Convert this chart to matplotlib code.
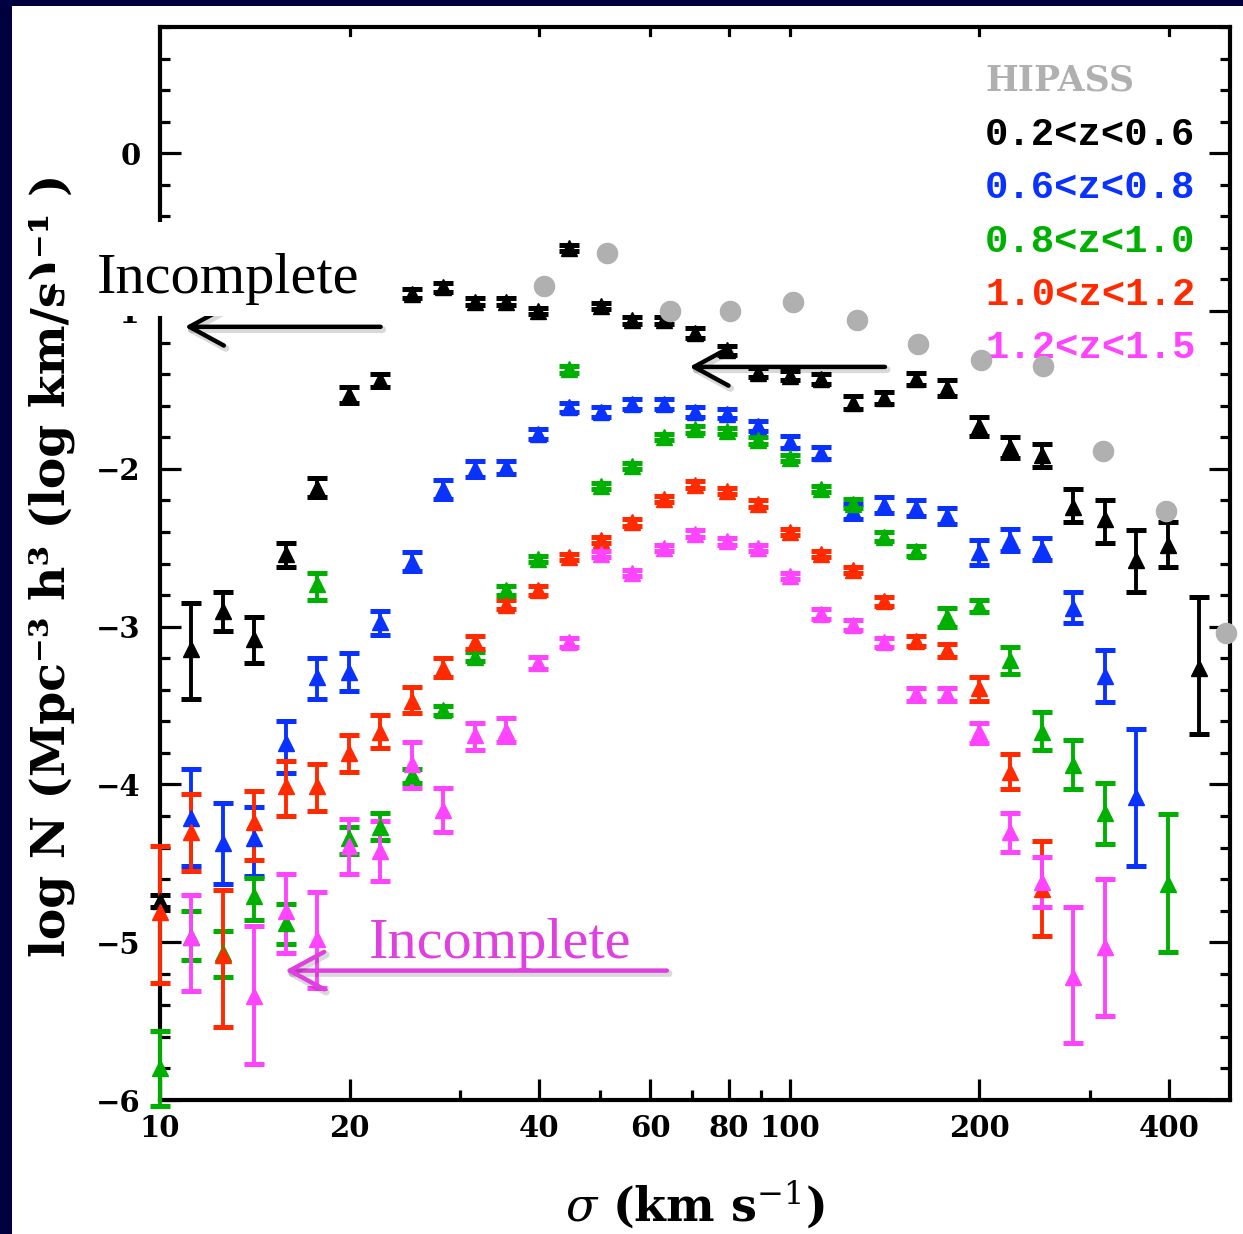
import matplotlib
matplotlib.use("Agg")
import matplotlib.pyplot as plt
import matplotlib.patheffects as pe
from matplotlib.patches import Rectangle
from matplotlib.ticker import FixedLocator, MultipleLocator, NullFormatter

# log(sigma) bin centres, 0.05 dex apart
grid = [1.00, 1.05, 1.10, 1.15, 1.20, 1.25, 1.30, 1.35, 1.40, 1.45, 1.50, 1.55,
        1.60, 1.65, 1.70, 1.75, 1.80, 1.85, 1.90, 1.95, 2.00, 2.05, 2.10, 2.15,
        2.20, 2.25, 2.30, 2.35, 2.40, 2.45, 2.50, 2.55, 2.60, 2.65]

# 0.2<z<0.6
lsig_black = grid
y_black = [-4.74, -3.14, -2.90, -3.08, -2.54, -2.12, -1.53, -1.44, -0.89, -0.85, -0.94, -0.94,
           -1.00, -0.60, -0.97, -1.06, -1.06, -1.14, -1.25, -1.39, -1.41, -1.43, -1.58, -1.55,
           -1.43, -1.49, -1.73, -1.86, -1.91, -2.24, -2.32, -2.58, -2.48, -3.26]
up_black = [0.04, 0.29, 0.12, 0.14, 0.07, 0.06, 0.05, 0.04, 0.03, 0.03, 0.02, 0.02, 0.02, 0.02,
            0.02, 0.02, 0.02, 0.03, 0.03, 0.03, 0.03, 0.03, 0.04, 0.04, 0.04, 0.05, 0.06, 0.06,
            0.07, 0.11, 0.12, 0.19, 0.14, 0.45]
dn_black = [0.04, 0.32, 0.13, 0.15, 0.08, 0.06, 0.05, 0.04, 0.03, 0.03, 0.02, 0.02, 0.02, 0.02,
            0.02, 0.02, 0.02, 0.03, 0.03, 0.03, 0.03, 0.03, 0.04, 0.04, 0.04, 0.05, 0.06, 0.07,
            0.08, 0.10, 0.15, 0.20, 0.14, 0.42]

# 0.6<z<0.8
lsig_blue = grid[1:32]
y_blue = [-4.21, -4.37, -4.34, -3.74, -3.32, -3.29, -2.97, -2.59, -2.13, -2.00, -1.99, -1.78,
          -1.61, -1.64, -1.59, -1.59, -1.64, -1.65, -1.73, -1.83, -1.90, -2.27, -2.23, -2.25,
          -2.30, -2.53, -2.45, -2.51, -2.88, -3.31, -4.08]
up_blue = [0.31, 0.25, 0.20, 0.14, 0.12, 0.12, 0.07, 0.06, 0.06, 0.05, 0.04, 0.03, 0.03, 0.03,
           0.03, 0.03, 0.03, 0.03, 0.03, 0.04, 0.04, 0.05, 0.05, 0.05, 0.05, 0.08, 0.07, 0.07,
           0.10, 0.16, 0.43]
dn_blue = [0.31, 0.26, 0.24, 0.19, 0.14, 0.12, 0.08, 0.06, 0.06, 0.05, 0.04, 0.03, 0.03, 0.03,
           0.03, 0.03, 0.03, 0.03, 0.03, 0.04, 0.04, 0.05, 0.05, 0.05, 0.05, 0.08, 0.07, 0.07,
           0.10, 0.17, 0.44]

# 0.8<z<1.0
lsig_green = grid[0:31] + [2.60]
y_green = [-5.80, -4.97, -5.07, -4.71, -4.88, -2.73, -4.34, -4.27, -3.94, -3.53, -3.19, -2.77,
           -2.57, -1.37, -2.11, -1.98, -1.80, -1.75, -1.76, -1.82, -1.93, -2.13, -2.22, -2.43,
           -2.52, -2.94, -2.87, -3.21, -3.67, -3.88, -4.18, -4.63]
up_green = [0.24, 0.17, 0.14, 0.12, 0.12, 0.07, 0.07, 0.09, 0.04, 0.03, 0.03, 0.03, 0.02, 0.02,
            0.02, 0.02, 0.02, 0.02, 0.02, 0.02, 0.02, 0.02, 0.03, 0.03, 0.03, 0.06, 0.04, 0.08,
            0.13, 0.16, 0.19, 0.44]
dn_green = [0.24, 0.14, 0.15, 0.15, 0.13, 0.10, 0.10, 0.08, 0.05, 0.03, 0.03, 0.03, 0.02, 0.02,
            0.02, 0.02, 0.02, 0.02, 0.02, 0.02, 0.02, 0.02, 0.03, 0.03, 0.03, 0.06, 0.04, 0.09,
            0.11, 0.15, 0.20, 0.43]

# 1.0<z<1.2
lsig_red = grid[0:29]
y_red = [-4.81, -4.30, -5.08, -4.24, -4.01, -4.01, -3.80, -3.67, -3.47, -3.26, -3.10, -2.86,
         -2.77, -2.56, -2.45, -2.34, -2.19, -2.10, -2.14, -2.22, -2.40, -2.54, -2.64, -2.84,
         -3.09, -3.15, -3.39, -3.92, -4.66]
up_red = [0.42, 0.24, 0.41, 0.20, 0.16, 0.14, 0.11, 0.11, 0.09, 0.06, 0.04, 0.03, 0.03, 0.02,
          0.02, 0.02, 0.02, 0.02, 0.02, 0.02, 0.02, 0.02, 0.02, 0.03, 0.03, 0.04, 0.07, 0.11, 0.30]
dn_red = [0.45, 0.25, 0.46, 0.24, 0.19, 0.16, 0.12, 0.10, 0.08, 0.06, 0.04, 0.03, 0.03, 0.02,
          0.02, 0.02, 0.02, 0.02, 0.02, 0.02, 0.02, 0.02, 0.02, 0.03, 0.03, 0.04, 0.08, 0.11, 0.30]

# 1.2<z<1.5
lsig_mag = [grid[1]] + grid[3:31]
y_mag = [-4.97, -5.34, -4.80, -4.98, -4.39, -4.42, -3.87, -4.16, -3.69, -3.66, -3.23, -3.10,
         -2.54, -2.66, -2.50, -2.41, -2.46, -2.50, -2.68, -2.92, -2.99, -3.10, -3.43, -3.43,
         -3.67, -4.30, -4.62, -5.22, -5.03]
up_mag = [0.27, 0.44, 0.23, 0.30, 0.17, 0.19, 0.14, 0.14, 0.08, 0.08, 0.04, 0.03, 0.02, 0.02,
          0.02, 0.02, 0.02, 0.02, 0.02, 0.03, 0.03, 0.03, 0.04, 0.04, 0.06, 0.12, 0.16, 0.44, 0.43]
dn_mag = [0.34, 0.43, 0.27, 0.31, 0.18, 0.19, 0.15, 0.14, 0.09, 0.07, 0.04, 0.03, 0.02, 0.02,
          0.02, 0.02, 0.02, 0.02, 0.02, 0.03, 0.03, 0.03, 0.04, 0.04, 0.07, 0.13, 0.16, 0.42, 0.44]

# HIPASS
lsig_hipass = [1.61, 1.71, 1.81, 1.905, 2.005, 2.106, 2.203, 2.303, 2.402, 2.498, 2.597, 2.692]
y_hipass = [-0.84, -0.63, -1.00, -1.00, -0.94, -1.06, -1.21, -1.31, -1.35, -1.89, -2.27, -3.04]

series = [
    (lsig_black, y_black, dn_black, up_black, "black", "0.2<z<0.6"),
    (lsig_blue, y_blue, dn_blue, up_blue, "#0a32ff", "0.6<z<0.8"),
    (lsig_green, y_green, dn_green, up_green, "#00b000", "0.8<z<1.0"),
    (lsig_red, y_red, dn_red, up_red, "#ff2a00", "1.0<z<1.2"),
    (lsig_mag, y_mag, dn_mag, up_mag, "#ff44ff", "1.2<z<1.5"),
]

plt.rcParams["mathtext.fontset"] = "dejavuserif"

W, H = 1243, 1234
fig = plt.figure(figsize=(W / 100, H / 100), dpi=100, facecolor="#000040")
fig.patches.append(Rectangle((12 / W, 0), 1, 1 - 6 / H, transform=fig.transFigure,
                             facecolor="white", edgecolor="none", zorder=-5))

ax = fig.add_axes([160 / W, 1 - 1100 / H, 1070 / W, 1073 / H])
ax.set_zorder(1)
ax.set_xscale("log")

for ls, yy, dn, up, col, lab in series:
    ax.errorbar([10 ** v for v in ls], yy, yerr=[dn, up], fmt="^", color=col, ms=12,
                elinewidth=2.8, capsize=7, capthick=3.6, clip_on=False, zorder=3)

ax.plot([10 ** v for v in lsig_hipass], y_hipass, "o", color="#b0b0b0", ms=14.5,
        clip_on=False, zorder=4)

ax.set_xlim(10, 500)
ax.set_ylim(-6, 0.8)

ax.set_xticks([10, 20, 40, 60, 80, 100, 200, 400])
ax.set_xticklabels(["10", "20", "40", "60", "80", "100", "200", "400"])
ax.xaxis.set_minor_locator(FixedLocator([30, 50, 70, 90, 300]))
ax.xaxis.set_minor_formatter(NullFormatter())
ax.set_yticks([0, -1, -2, -3, -4, -5, -6])
ax.set_yticklabels(["0", "\u22121", "\u22122", "\u22123", "\u22124", "\u22125", "\u22126"])
ax.yaxis.set_minor_locator(MultipleLocator(0.2))

for lbl in ax.get_xticklabels() + ax.get_yticklabels():
    lbl.set_family("DejaVu Serif")
    lbl.set_weight("bold")
    lbl.set_fontsize(21)

ax.tick_params(which="major", direction="in", length=15, width=2.3, bottom=True, left=True,
               right=True, top=False)
ax.tick_params(which="minor", direction="in", length=7, width=2.3, bottom=True, left=True,
               right=True, top=False)
ax.tick_params(axis="x", which="major", pad=10)
ax.tick_params(axis="y", which="major", pad=14)
for s in ax.spines.values():
    s.set_linewidth(3)

# short ticks along the top edge
for xv in [20, 40, 60, 80, 100, 200, 400]:
    ax.plot([xv, xv], [0.8, 0.75], color="black", lw=2.3, clip_on=False, zorder=5)

# legend text
ax.text(0.771, 0.9506, "HIPASS", transform=ax.transAxes, color="#b0b0b0", fontsize=25,
        family="DejaVu Serif", weight="bold", va="center", ha="left")
for i, (ls, yy, dn, up, col, lab) in enumerate(series):
    ax.text(0.771, 0.8993 - 0.0497 * i, lab, transform=ax.transAxes, color=col, fontsize=28,
            family="Liberation Mono", weight="bold", va="center", ha="left")

# axis labels
fig.text(52 / W, 1 - 565 / H, "log N (Mpc\u207b\u00b3 h\u00b3 (log km/s)\u207b\u00b9 )",
         rotation=90, ha="center", va="center", fontsize=34, family="DejaVu Serif",
         weight="bold")
fig.text(695 / W, 1 - 1205 / H, r"$\sigma$ (km s$^{-1}$)", ha="center", va="center",
         fontsize=33, family="DejaVu Serif", weight="bold")

# "Incomplete" annotations pasted on white
for (x0, y0, x1, y1) in [(55, 222, 385, 290), (95, 222, 385, 316)]:
    fig.patches.append(Rectangle((x0 / W, 1 - y1 / H), (x1 - x0) / W, (y1 - y0) / H,
                                 transform=fig.transFigure, facecolor="white",
                                 edgecolor="none", zorder=6))
fig.text(97 / W, 1 - 279 / H, "Incomplete", ha="left", va="center", fontsize=42,
         family="Liberation Serif", color="black", zorder=7)
ax.text(21.5, -5.01, "Incomplete", ha="left", va="center", fontsize=42,
        family="Liberation Serif", color="#e040e0", zorder=7)

shadow = [pe.SimpleLineShadow(offset=(1.5, -2), shadow_color="black", alpha=0.15,
                              linewidth=5), pe.Normal()]
arrows = [((22.4, -1.10), (10.95, -1.10), "black"),
          ((141.6, -1.354), (69.3, -1.354), "black"),
          ((63.8, -5.18), (15.8, -5.18), "#e040e0")]
for start, end, col in arrows:
    an = ax.annotate("", xy=end, xytext=start, xycoords="data", textcoords="data",
                     annotation_clip=False, zorder=8,
                     arrowprops=dict(arrowstyle="->,head_length=0.55,head_width=0.3",
                                     color=col, lw=3.2, mutation_scale=45,
                                     shrinkA=0, shrinkB=0))
    an.arrow_patch.set_path_effects(shadow)
    an.arrow_patch.set_zorder(8)

fig.savefig("out.png", dpi=100, facecolor=fig.get_facecolor())
